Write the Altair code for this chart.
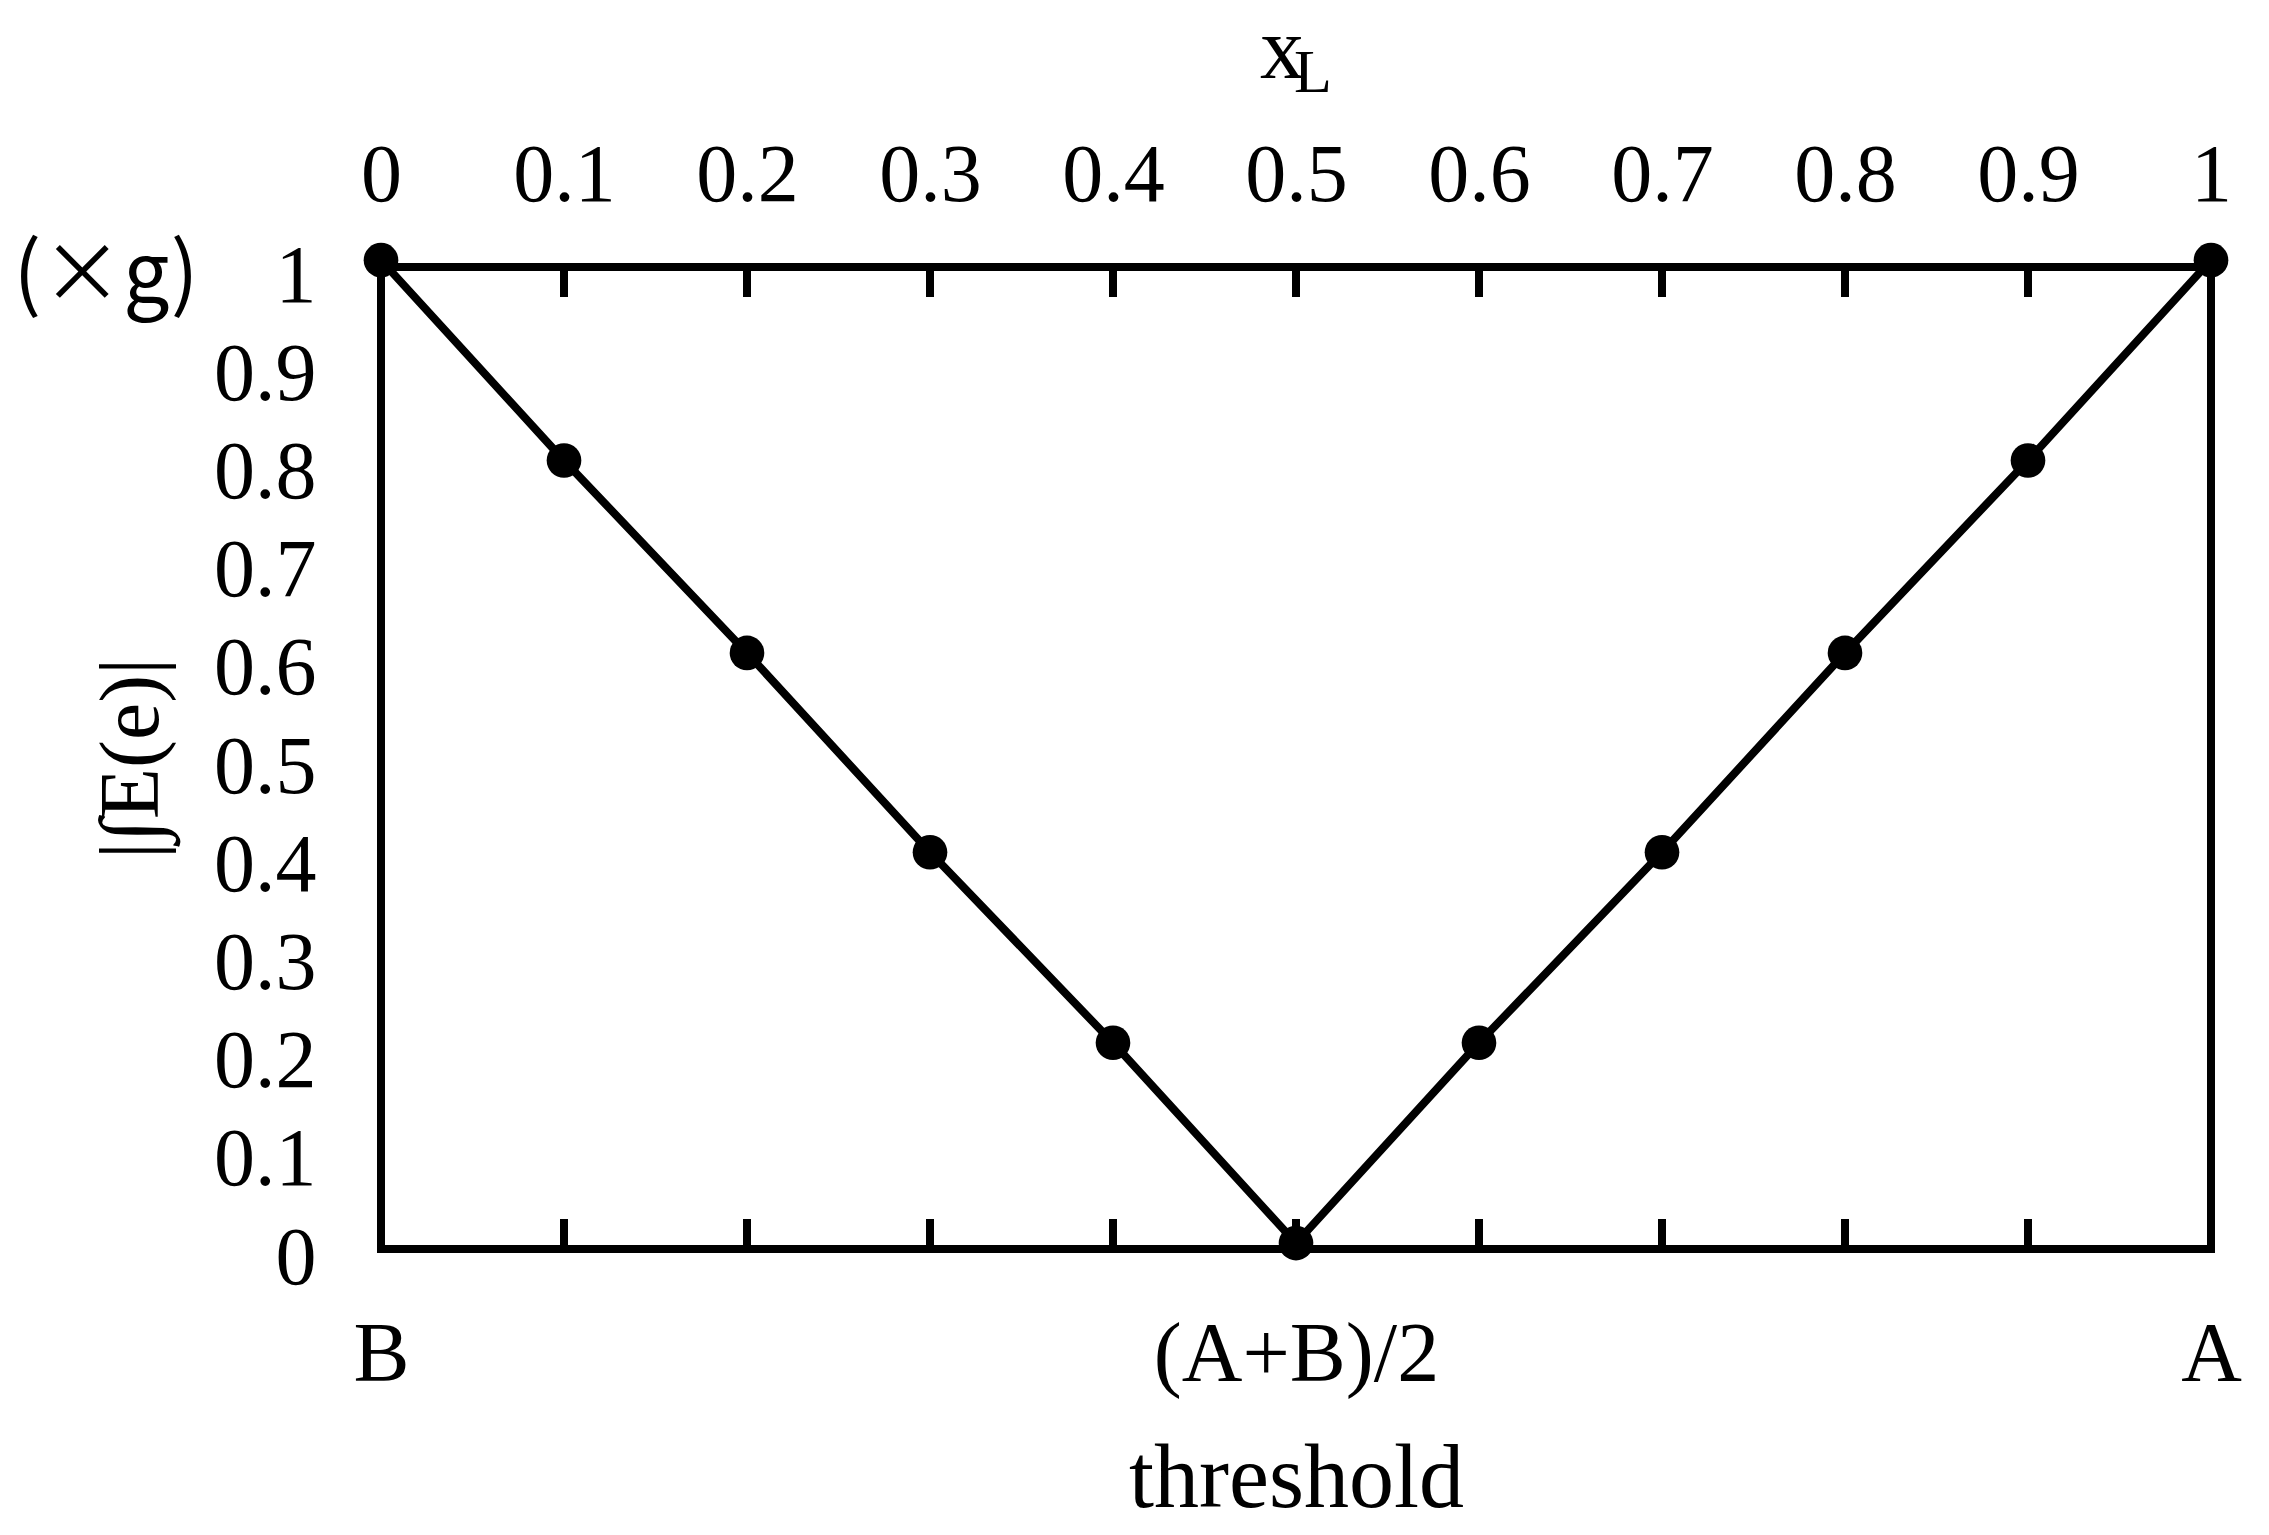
import altair as alt
import pandas as pd

# ---- data ----
xl_values = [0.0, 0.1, 0.2, 0.3, 0.4, 0.5, 0.6, 0.7, 0.8, 0.9, 1.0]
e_values = [1.007, 0.803, 0.607, 0.404, 0.21, 0.006, 0.21, 0.404, 0.607, 0.803, 1.007]
inner_ticks = [0.1, 0.2, 0.3, 0.4, 0.5, 0.6, 0.7, 0.8, 0.9]
y_tick_values = [0.0, 0.1, 0.2, 0.3, 0.4, 0.5, 0.6, 0.7, 0.8, 0.9, 1.0]
bottom_tick_values = [0.0, 0.5, 1.0]
bottom_tick_labels = ["B", "(A+B)/2", "A"]
top_title_main = ["x"]
top_title_sub = ["L"]
unit_label = ["(×g)"]
y_title = "|∫E(e)|"
x_title = "threshold"

W, H = 1830, 982
SERIF = "Liberation Serif"
LW = 8

df = pd.DataFrame({"xl": xl_values, "E": e_values})
df_ticks = pd.DataFrame({"t": inner_ticks})

xs = alt.Scale(domain=[0, 1], nice=False, zero=False)
ys = alt.Scale(domain=[0, 1], nice=False, zero=False)

bottom_expr = (
    f"datum.value == 0 ? '{bottom_tick_labels[0]}' : "
    f"(datum.value == 1 ? '{bottom_tick_labels[2]}' : '{bottom_tick_labels[1]}')"
)

y_axis = alt.Axis(
    orient="left",
    values=y_tick_values,
    labelExpr="format(datum.value, '.1~f')",
    labelFont=SERIF,
    labelFontSize=82,
    labelPadding=65,
    labelOffset=9,
    labelFlush=False,
    labelOverlap=False,
    labelLimit=1000,
    domain=False,
    ticks=False,
    tickSize=0,
    grid=False,
    title=y_title,
    titleFont=SERIF,
    titleFontSize=84,
    titleFontWeight="normal",
    titlePadding=38,
)

line = alt.Chart(df).mark_line(color="black", strokeWidth=LW).encode(
    x=alt.X(
        "xl:Q",
        scale=xs,
        axis=alt.Axis(
            orient="bottom",
            values=bottom_tick_values,
            labelExpr=bottom_expr,
            labelFont=SERIF,
            labelFontSize=84,
            labelPadding=65,
            labelFlush=False,
            labelOverlap=False,
            labelLimit=1000,
            domain=False,
            ticks=False,
            tickSize=0,
            grid=False,
            title=x_title,
            titleFont=SERIF,
            titleFontSize=90,
            titleFontWeight="normal",
            titlePadding=38,
        ),
    ),
    y=alt.Y("E:Q", scale=ys, axis=y_axis),
)

points = alt.Chart(df).mark_circle(size=1200, color="black", opacity=1).encode(
    x=alt.X(
        "xl:Q",
        scale=xs,
        axis=alt.Axis(
            orient="top",
            values=xl_values,
            labelExpr="format(datum.value, '.1~f')",
            labelFont=SERIF,
            labelFontSize=82,
            labelPadding=50,
            labelFlush=False,
            labelOverlap=False,
            labelLimit=1000,
            domain=False,
            ticks=False,
            tickSize=0,
            grid=False,
            title=None,
        ),
    ),
    y=alt.Y("E:Q", scale=ys, axis=y_axis),
)

top_ticks = alt.Chart(df_ticks).mark_rule(color="black", strokeWidth=LW).encode(
    x=alt.X("t:Q", scale=xs, axis=None),
    y=alt.value(0),
    y2=alt.value(30),
)
bottom_ticks = alt.Chart(df_ticks).mark_rule(color="black", strokeWidth=LW).encode(
    x=alt.X("t:Q", scale=xs, axis=None),
    y=alt.value(H - 30),
    y2=alt.value(H),
)

t_main = alt.Chart(pd.DataFrame({"s": top_title_main})).mark_text(
    font=SERIF, fontSize=88, align="center", baseline="alphabetic", color="black"
).encode(text="s:N", x=alt.value(901), y=alt.value(-189))
t_sub = alt.Chart(pd.DataFrame({"s": top_title_sub})).mark_text(
    font=SERIF, fontSize=62, align="center", baseline="alphabetic", color="black"
).encode(text="s:N", x=alt.value(932), y=alt.value(-175))
t_unit = alt.Chart(pd.DataFrame({"s": unit_label})).mark_text(
    font="Noto Sans CJK JP", fontSize=82, align="center", baseline="alphabetic", color="black"
).encode(text="s:N", x=alt.value(-275), y=alt.value(35))

chart = (
    alt.layer(line, points, top_ticks, bottom_ticks, t_main, t_sub, t_unit)
    .resolve_scale(x="independent")
    .properties(
        width=W,
        height=H,
        autosize=alt.AutoSizeParams(type="none"),
        padding={"left": 373, "top": 259, "right": 50, "bottom": 278},
        background="white",
    )
    .configure_view(stroke="black", strokeWidth=LW)
    .configure_axis(labelColor="black", titleColor="black")
)

chart.save("out.html", embed_options={"renderer": "svg", "actions": False})
